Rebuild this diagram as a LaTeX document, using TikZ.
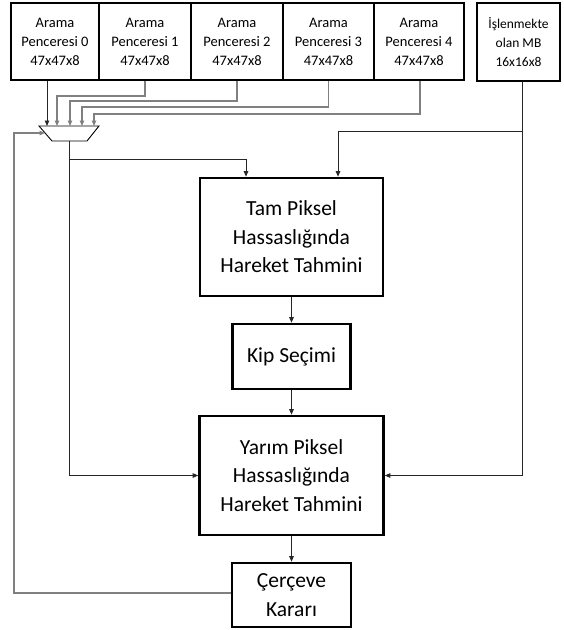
\documentclass[tikz,border=0pt]{standalone}
\usepackage{fontspec}
\setmainfont{Carlito}
\usetikzlibrary{arrows.meta}
\begin{document}
\begin{tikzpicture}[x=1pt,y=-1pt,
  box/.style={draw,line width=2.6pt,inner sep=0pt,align=center},
  smallbox/.style={box,font=\fontsize{14.5}{19}\selectfont},
  tinybox/.style={box,font=\fontsize{13.5}{19}\selectfont},
  bigbox/.style={box,font=\fontsize{21.5}{28.5}\selectfont},
  conn/.style={line width=0.9pt,draw=black!85,-{Triangle[length=5.5pt,width=4.5pt]}},
  gconn/.style={conn,line width=1.1pt,draw=black!50},
  ]
\useasboundingbox (0,0) rectangle (563,630);
% top boxes
\node[smallbox,minimum width=88pt,minimum height=77pt] (b0) at (55,41.5) {Arama\\Penceresi 0\\47x47x8};
\node[smallbox,minimum width=92pt,minimum height=77pt] (b1) at (145,41.5) {Arama\\Penceresi 1\\47x47x8};
\node[smallbox,minimum width=92pt,minimum height=77pt] (b2) at (237,41.5) {Arama\\Penceresi 2\\47x47x8};
\node[smallbox,minimum width=91pt,minimum height=77pt] (b3) at (328.5,41.5) {Arama\\Penceresi 3\\47x47x8};
\node[smallbox,minimum width=90pt,minimum height=77pt] (b4) at (419,41.5) {Arama\\Penceresi 4\\47x47x8};
\node[tinybox,minimum width=83pt,minimum height=78pt] (b5) at (518.5,42) {İşlenmekte\\olan MB\\16x16x8};
% main boxes
\node[bigbox,minimum width=183pt,minimum height=118pt] (tam) at (291.5,237) {Tam Piksel\\Hassaslığında\\Hareket Tahmini};
\node[bigbox,minimum width=118pt,minimum height=65pt] (kip) at (291.5,356.5) {Kip Seçimi};
\node[bigbox,minimum width=184pt,minimum height=119pt] (yar) at (291.5,475.5) {Yarım Piksel\\Hassaslığında\\Hareket Tahmini};
\node[bigbox,minimum width=119pt,minimum height=64pt] (cer) at (291.5,595) {Çerçeve\\Kararı};
% multiplexer
\draw[line width=0.9pt] (39,126) -- (99,126) -- (87,141) -- (52,141) -- cycle;
\coordinate (m0) at (47,126);
\coordinate (m1) at (57,126);
\coordinate (m2) at (70,126);
\coordinate (m3) at (82,126);
\coordinate (m4) at (94,126);
\coordinate (ml) at (45,133);
\coordinate (mo) at (69,141);
% inputs to multiplexer
\draw[conn] ([xshift=-8pt]b0.south) -- (m0);
\draw[gconn] (b1.south) -- (b1.south |- 0,96) -| (m1);
\draw[gconn] (b2.south) -- (b2.south |- 0,101) -| (m2);
\draw[gconn] (b3.south) -- (b3.south |- 0,107) -| (m3);
\draw[gconn] ([xshift=1pt]b4.south) -- ([xshift=1pt]b4.south |- 0,114) -| (m4);
% current MB
\coordinate (j) at ([xshift=3.5pt]b5.south |- 0,131);
\draw[conn] ([xshift=3.5pt]b5.south) -- (j) -| ([xshift=46.5pt]tam.north);
\draw[conn] (j) |- (yar.east);
% multiplexer output
\draw[conn] (mo) -- (mo |- 0,159) -| ([xshift=-45.5pt]tam.north);
\draw[conn] (mo) |- (yar.west);
% chain
\draw[conn] (tam.south) -- (kip.north);
\draw[conn] (kip.south) -- (yar.north);
\draw[conn] (yar.south) -- (cer.north);
% feedback
\draw[gconn] ([yshift=2pt]cer.west) -- ([yshift=2pt]cer.west -| 14,0) |- (ml);
\end{tikzpicture}
\end{document}
